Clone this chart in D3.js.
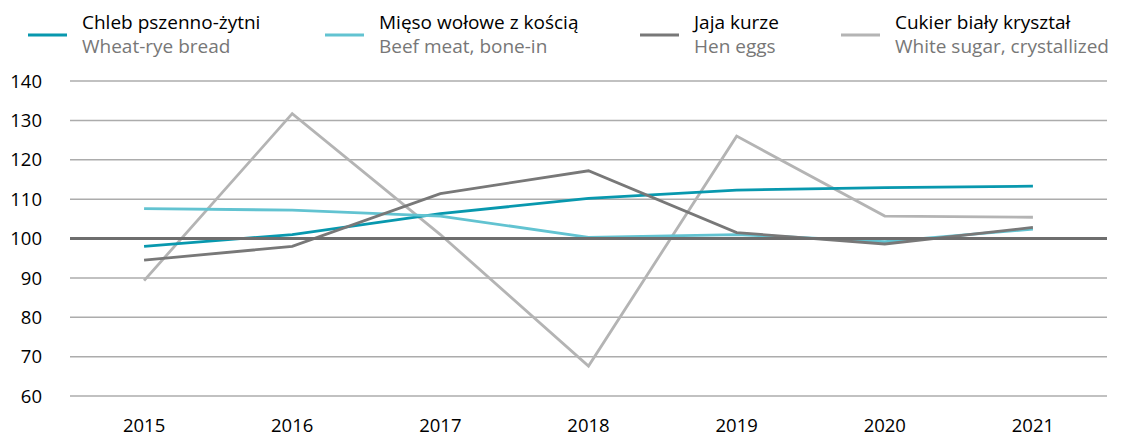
<!DOCTYPE html>
<meta charset="utf-8">
<style>
body { margin: 0; background: #fff; }
text { font-family: "Open Sans", sans-serif; }
</style>
<svg width="1121" height="436"></svg>
<script src="https://d3js.org/d3.v7.min.js"></script>
<script>

var years = ["2015", "2016", "2017", "2018", "2019", "2020", "2021"];
var yTicks = [60, 70, 80, 90, 100, 110, 120, 130, 140];

var bread  = [98.0, 101.0, 106.3, 110.2, 112.3, 112.9, 113.3];
var beef   = [107.6, 107.2, 105.7, 100.3, 101.0, 99.2, 102.4];
var eggs   = [94.5, 98.0, 111.4, 117.2, 101.5, 98.6, 102.8];
var sugar  = [89.3, 131.7, 101.0, 67.6, 126.0, 105.7, 105.4];

var seriesNames = ["Chleb pszenno-żytni", "Mięso wołowe z kością", "Jaja kurze", "Cukier biały kryształ"];
var seriesNamesEn = ["Wheat-rye bread", "Beef meat, bone-in", "Hen eggs", "White sugar, crystallized"];
var seriesColors = ["#0898ae", "#62c3d1", "#787878", "#b4b4b4"];
var series = [bread, beef, eggs, sugar];

var svg = d3.select("svg");

var x = d3.scalePoint().domain(years).range([70, 1107]).padding(0.5);
var y = d3.scaleLinear().domain([60, 140]).range([396, 81]);

// gridlines
var grid = svg.append("g");
grid.selectAll("line")
    .data(yTicks)
    .enter().append("line")
    .attr("x1", 70)
    .attr("x2", 1107)
    .attr("y1", function(d) { return y(d); })
    .attr("y2", function(d) { return y(d); })
    .attr("stroke", "#acacac")
    .attr("stroke-width", 1.5);

// y labels
svg.append("g").selectAll("text")
    .data(yTicks)
    .enter().append("text")
    .attr("x", 42)
    .attr("y", function(d) { return y(d); })
    .attr("dy", "0.36em")
    .attr("text-anchor", "end")
    .attr("font-size", 18.5)
    .attr("fill", "#000")
    .text(function(d) { return d; });

// x labels
svg.append("g").selectAll("text")
    .data(years)
    .enter().append("text")
    .attr("x", function(d) { return x(d); })
    .attr("y", 432)
    .attr("text-anchor", "middle")
    .attr("font-size", 18.5)
    .attr("fill", "#000")
    .text(function(d) { return d; });

var line = d3.line()
    .x(function(d, i) { return x(years[i]); })
    .y(function(d) { return y(d); });

// sugar at the back
var order = [3, 0, 1, 2];
svg.append("g").selectAll("path")
    .data(order)
    .enter().append("path")
    .attr("d", function(k) { return line(series[k]); })
    .attr("fill", "none")
    .attr("stroke", function(k) { return seriesColors[k]; })
    .attr("stroke-width", 2.8)
    .attr("stroke-linejoin", "miter");

// 100 baseline
svg.append("line")
    .attr("x1", 70)
    .attr("x2", 1107)
    .attr("y1", y(100))
    .attr("y2", y(100))
    .attr("stroke", "#6e6e6e")
    .attr("stroke-width", 3);

// legend
var legendX = [28, 325, 640, 841];
var legend = svg.append("g").selectAll("g")
    .data(seriesNames)
    .enter().append("g")
    .attr("transform", function(d, i) { return "translate(" + legendX[i] + ",0)"; });

legend.append("line")
    .attr("x1", 0).attr("x2", 39)
    .attr("y1", 35).attr("y2", 35)
    .attr("stroke", function(d, i) { return seriesColors[i]; })
    .attr("stroke-width", 3);

legend.append("text")
    .attr("x", 54)
    .attr("y", 29)
    .attr("font-size", 19)
    .attr("fill", "#000")
    .text(function(d) { return d; });

legend.append("text")
    .attr("x", 54)
    .attr("y", 53)
    .attr("font-size", 19)
    .attr("fill", "#777")
    .text(function(d, i) { return seriesNamesEn[i]; });

</script>
